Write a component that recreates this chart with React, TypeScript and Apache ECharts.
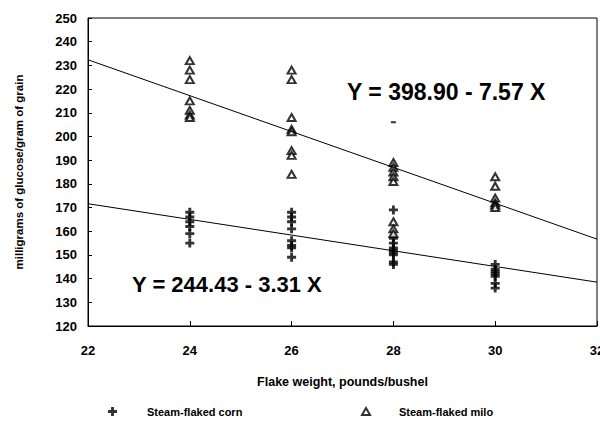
import React, { useEffect, useRef } from "react";
import * as echarts from "echarts";

const xTicks = [22, 24, 26, 28, 30, 32];
const flakeWeights = [24, 26, 28, 30];
const cornValues = [
  [168, 166, 164, 162, 159, 155],
  [168, 166, 164, 161, 156, 154, 153, 149],
  [169, 157, 155, 153, 152, 151, 150, 147, 146],
  [146, 144, 143, 142, 141, 138, 136],
];
const miloValues = [
  [232, 228, 224, 215, 211, 209, 208],
  [228, 224, 208, 203, 202, 194, 192, 184],
  [189, 187, 185, 183, 181, 164, 161, 159],
  [183, 179, 174, 172, 171, 170],
];
const strayMark = [[28, 206]];
const cornFit = { intercept: 244.43, slope: -3.31 };
const miloFit = { intercept: 398.9, slope: -7.57 };
const seriesNames = ["Steam-flaked corn", "Steam-flaked milo"];
const cornEquation = "Y = 244.43 - 3.31 X";
const miloEquation = "Y = 398.90 - 7.57 X";

const FONT = "'Liberation Sans', Arial, sans-serif";
const PLUS = "path://M3.4,0H6.6V3.4H10V6.6H6.6V10H3.4V6.6H0V3.4H3.4Z";

function toPoints(groups: number[][]) {
  const pts: number[][] = [];
  groups.forEach((g, i) => g.forEach((v) => pts.push([flakeWeights[i], v])));
  return pts;
}
function fitLine(f: { intercept: number; slope: number }) {
  const a = xTicks[0];
  const b = xTicks[xTicks.length - 1];
  return [
    [a, f.intercept + f.slope * a],
    [b, f.intercept + f.slope * b],
  ];
}

export default function App() {
  const ref = useRef<HTMLDivElement>(null);
  useEffect(() => {
    document.body.style.margin = "0";
    const chart = echarts.init(ref.current!, null, { renderer: "svg" });
    const legendText = { fontFamily: FONT, fontWeight: "bold", fontSize: 11, color: "#000", padding: [0, 0, 0, 25] };
    chart.setOption({
      animation: false,
      backgroundColor: "#fff",
      grid: {
        left: 88,
        right: 3,
        top: 18,
        bottom: 101,
        show: true,
        borderColor: "#000",
        borderWidth: 1,
        outerBoundsMode: "none",
        containLabel: false,
      },
      xAxis: {
        type: "value",
        min: 22,
        max: 32,
        interval: 2,
        name: "Flake weight, pounds/bushel",
        nameLocation: "middle",
        nameGap: 49,
        nameTextStyle: { fontFamily: FONT, fontWeight: "bold", fontSize: 12.5, color: "#000" },
        axisLine: { lineStyle: { color: "#000", width: 1 } },
        axisTick: { inside: true, length: 5, lineStyle: { color: "#000" } },
        axisLabel: { fontFamily: FONT, fontWeight: "bold", fontSize: 13, color: "#000", margin: 18 },
        splitLine: { show: false },
      },
      yAxis: {
        type: "value",
        min: 120,
        max: 250,
        interval: 10,
        name: "milligrams of glucose/gram of grain",
        nameLocation: "middle",
        nameGap: 63,
        nameTextStyle: { fontFamily: FONT, fontWeight: "bold", fontSize: 11.5, color: "#000" },
        axisLine: { lineStyle: { color: "#000", width: 1 } },
        axisTick: { inside: true, length: 4, lineStyle: { color: "#000" } },
        axisLabel: { fontFamily: FONT, fontWeight: "bold", fontSize: 13, color: "#000", margin: 11 },
        splitLine: { show: false },
      },
      legend: [
        {
          left: 103,
          top: 401,
          data: [seriesNames[0]],
          itemWidth: 9,
          itemHeight: 9,
          textStyle: legendText,
        },
        {
          left: 356,
          top: 401,
          data: [seriesNames[1]],
          itemWidth: 8,
          itemHeight: 7,
          textStyle: { ...legendText, padding: [0, 0, 0, 24] },
        },
      ],
      series: [
        {
          type: "line",
          data: fitLine(cornFit),
          showSymbol: false,
          lineStyle: { color: "#000", width: 1 },
          silent: true,
        },
        {
          type: "line",
          data: fitLine(miloFit),
          showSymbol: false,
          lineStyle: { color: "#000", width: 1 },
          silent: true,
        },
        {
          name: seriesNames[0],
          type: "scatter",
          data: toPoints(cornValues),
          symbol: PLUS,
          symbolSize: 9,
          itemStyle: { color: "#000" },
        },
        {
          name: seriesNames[1],
          type: "scatter",
          data: toPoints(miloValues),
          symbol: "triangle",
          symbolSize: [8, 7],
          itemStyle: { color: "#fff", borderColor: "#000", borderWidth: 2 },
        },
        {
          type: "scatter",
          data: strayMark,
          symbol: "rect",
          symbolSize: [5, 2],
          itemStyle: { color: "#000" },
        },
      ],
      graphic: [
        {
          type: "text",
          left: 347,
          top: 80,
          style: { text: miloEquation, fontFamily: FONT, fontWeight: "bold", fontSize: 23, fill: "#000" },
        },
        {
          type: "text",
          left: 132,
          top: 273,
          style: { text: cornEquation, fontFamily: FONT, fontWeight: "bold", fontSize: 22, fill: "#000" },
        },
      ],
    });
    return () => chart.dispose();
  }, []);
  return <div ref={ref} style={{ position: "fixed", left: 0, top: 0, width: 600, height: 427 }} />;
}
